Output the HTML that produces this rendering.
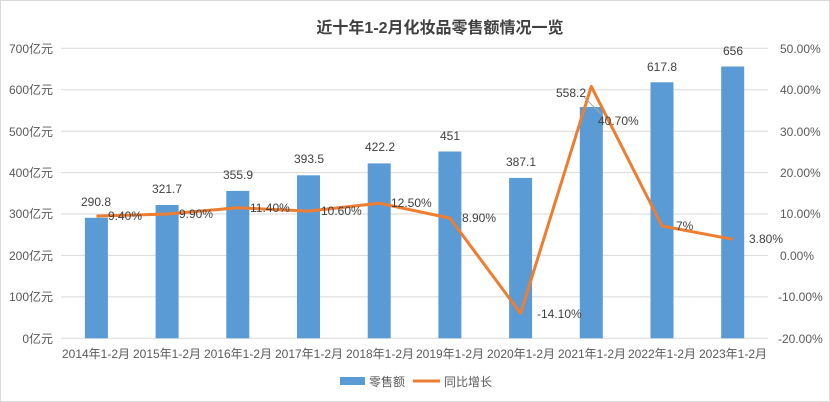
<!DOCTYPE html>
<html><head><meta charset="utf-8"><style>
body{margin:0;background:#fff}
svg{display:block;font-family:"Liberation Sans","Noto Sans CJK SC",sans-serif}
</style></head><body>
<svg width="830" height="402" viewBox="0 0 830 402">
<rect x="0" y="0" width="830" height="402" fill="#fff"/>
<rect x="0.5" y="0.5" width="829" height="401" fill="none" stroke="#d9d9d9"/>
<text x="440" y="33" text-anchor="middle" font-size="16" font-weight="bold" fill="#404040">近十年1-2月化妆品零售额情况一览</text>
<g stroke="#d9d9d9" stroke-width="1">
<line x1="61" x2="768" y1="48.3" y2="48.3"/><line x1="61" x2="768" y1="89.7" y2="89.7"/>
<line x1="61" x2="768" y1="131.2" y2="131.2"/><line x1="61" x2="768" y1="172.6" y2="172.6"/>
<line x1="61" x2="768" y1="214" y2="214"/><line x1="61" x2="768" y1="255.4" y2="255.4"/>
<line x1="61" x2="768" y1="296.9" y2="296.9"/><line x1="61" x2="768" y1="338.3" y2="338.3"/>
</g>
<g font-size="12" fill="#595959" text-anchor="end">
<text x="53" y="53">700亿元</text><text x="53" y="94">600亿元</text><text x="53" y="136">500亿元</text>
<text x="53" y="177">400亿元</text><text x="53" y="218">300亿元</text><text x="53" y="260">200亿元</text>
<text x="53" y="301">100亿元</text><text x="53" y="343">0亿元</text>
</g>
<g font-size="12" fill="#595959" text-anchor="start">
<text x="780" y="53">50.00%</text><text x="780" y="94">40.00%</text><text x="780" y="136">30.00%</text>
<text x="780" y="177">20.00%</text><text x="780" y="218">10.00%</text><text x="780" y="260">0.00%</text>
<text x="778" y="301">-10.00%</text><text x="778" y="343">-20.00%</text>
</g>
<g fill="#5b9bd5">
<rect x="84.9" y="217.8" width="23" height="120.5"/>
<rect x="155.6" y="205" width="23" height="133.3"/>
<rect x="226.3" y="190.9" width="23" height="147.4"/>
<rect x="297" y="175.3" width="23" height="163"/>
<rect x="367.7" y="163.4" width="23" height="174.9"/>
<rect x="438.4" y="151.5" width="23" height="186.8"/>
<rect x="509.1" y="177.9" width="23" height="160.4"/>
<rect x="579.8" y="107" width="23" height="231.3"/>
<rect x="650.5" y="82.3" width="23" height="256"/>
<rect x="721.2" y="66.5" width="23" height="271.8"/>
</g>
<g font-size="12" fill="#404040" text-anchor="middle">
<text x="96" y="206">290.8</text><text x="167" y="193">321.7</text><text x="238" y="179">355.9</text>
<text x="309" y="163">393.5</text><text x="380" y="151">422.2</text><text x="450" y="140">451</text>
<text x="521" y="166">387.1</text><text x="571" y="97">558.2</text><text x="662" y="71">617.8</text>
<text x="733" y="55">656</text>
</g>
<polyline fill="none" stroke="#ed7d31" stroke-width="3" stroke-linejoin="round" points="96.4,216.1 167.1,214 237.8,207.8 308.5,211.1 379.2,203.2 449.9,218.1 520.6,313.4 591.3,86.4 662,226 732.7,239.3"/>
<line x1="584" y1="97" x2="601" y2="114" stroke="#a6a6a6" stroke-width="1"/>
<g font-size="12" fill="#404040">
<text x="108" y="220">9.40%</text><text x="179" y="218">9.90%</text><text x="250" y="212">11.40%</text>
<text x="321" y="215">10.60%</text><text x="391" y="207">12.50%</text><text x="462" y="222">8.90%</text>
<text x="537" y="318">-14.10%</text><text x="598" y="125">40.70%</text><text x="676" y="230">7%</text>
<text x="749" y="243">3.80%</text>
</g>
<g font-size="12" fill="#595959" text-anchor="middle">
<text x="96" y="358">2014年1-2月</text><text x="167" y="358">2015年1-2月</text><text x="238" y="358">2016年1-2月</text>
<text x="309" y="358">2017年1-2月</text><text x="380" y="358">2018年1-2月</text><text x="450" y="358">2019年1-2月</text>
<text x="521" y="358">2020年1-2月</text><text x="592" y="358">2021年1-2月</text><text x="662" y="358">2022年1-2月</text>
<text x="733" y="358">2023年1-2月</text>
</g>
<rect x="340" y="377" width="25" height="8" fill="#5b9bd5"/>
<text x="369" y="386" font-size="12" fill="#595959">零售额</text>
<line x1="413" y1="381" x2="440" y2="381" stroke="#ed7d31" stroke-width="3"/>
<text x="444" y="386" font-size="12" fill="#595959">同比增长</text>
</svg>
</body></html>
